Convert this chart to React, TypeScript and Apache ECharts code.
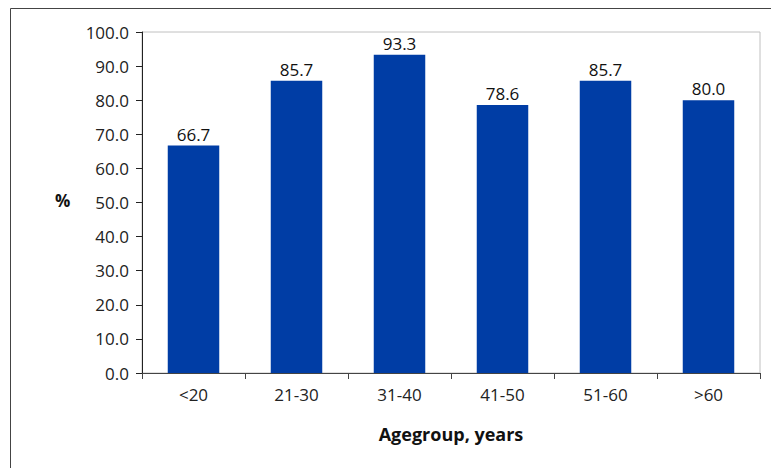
import React, { useEffect, useRef } from "react";
import * as echarts from "echarts";

const categories = ["<20", "21-30", "31-40", "41-50", "51-60", ">60"];
const values = [66.7, 85.7, 93.3, 78.6, 85.7, 80.0];
const yAxisName = "%";
const xAxisName = "Agegroup, years";

export default function App() {
  const ref = useRef<HTMLDivElement>(null);
  useEffect(() => {
    if (!ref.current) return;
    const chart = echarts.init(ref.current, null, { renderer: "svg" });
    const font = "'Open Sans', 'DejaVu Sans', sans-serif";
    chart.setOption({
      animation: false,
      backgroundColor: "#ffffff",
      textStyle: { fontFamily: font },
      graphic: [
        {
          type: "rect",
          shape: { x: 10.5, y: 8.5, width: 800, height: 500 },
          style: { fill: "none", stroke: "#444", lineWidth: 1 },
          silent: true,
          z: -1,
        },
        {
          type: "text",
          left: 55,
          top: 192,
          style: { text: yAxisName, font: `bold 17px ${font}`, fill: "#111" },
        },
      ],
      grid: {
        left: 142,
        top: 32,
        width: 618,
        height: 341,
        show: true,
        borderColor: "#c0c0c0",
        borderWidth: 1,
        backgroundColor: "transparent",
      },
      xAxis: {
        type: "category",
        data: categories,
        name: xAxisName,
        nameLocation: "middle",
        nameGap: 52,
        nameTextStyle: { fontSize: 18, fontWeight: "bold", color: "#111", fontFamily: font },
        axisLine: { lineStyle: { color: "#444", width: 1 } },
        axisTick: { show: true, length: 6, lineStyle: { color: "#444" } },
        axisLabel: { fontSize: 17, color: "#222", margin: 13, fontFamily: font },
      },
      yAxis: {
        type: "value",
        min: 0,
        max: 100,
        interval: 10,
        axisLine: { show: true, lineStyle: { color: "#222", width: 1 } },
        axisTick: { show: true, length: 6, lineStyle: { color: "#222" } },
        splitLine: { show: false },
        axisLabel: {
          fontSize: 17,
          color: "#222",
          margin: 13,
          fontFamily: font,
          formatter: (v: number) => v.toFixed(1),
        },
      },
      series: [
        {
          type: "bar",
          data: values,
          barWidth: "50%",
          itemStyle: { color: "#003da5" },
          label: {
            show: true,
            position: "top",
            distance: 3,
            fontSize: 17,
            color: "#111",
            fontFamily: font,
            formatter: (p: any) => Number(p.value).toFixed(1),
          },
        },
      ],
    });
    return () => chart.dispose();
  }, []);
  return (
    <div
      ref={ref}
      style={{ position: "fixed", left: 0, top: 0, width: 771, height: 468 }}
    />
  );
}
